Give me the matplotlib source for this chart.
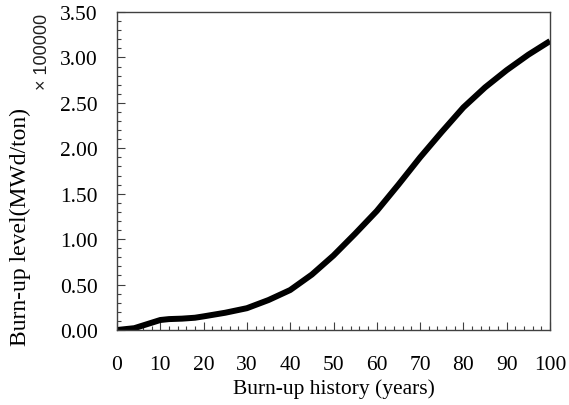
import matplotlib
matplotlib.use("Agg")
import matplotlib.pyplot as plt
from matplotlib.ticker import MultipleLocator, FormatStrFormatter

years = [0, 2, 4, 6, 8, 10, 12, 15, 18, 20, 25, 30, 35, 40, 45, 50, 55, 60,
         65, 70, 75, 80, 85, 90, 95, 100]
burnup = [0.00, 0.01, 0.02, 0.05, 0.08, 0.11, 0.12, 0.125, 0.135, 0.15, 0.19,
          0.24, 0.33, 0.44, 0.61, 0.82, 1.06, 1.31, 1.60, 1.90, 2.18, 2.45,
          2.67, 2.86, 3.03, 3.18]

x_label = "Burn-up history (years)"
y_label = "Burn-up level(MWd/ton)"
scale_text = "\u00d7 100000"

plt.rcParams['font.family'] = ['Liberation Serif', 'DejaVu Serif']

fig = plt.figure(figsize=(5.69, 4.06), dpi=100)
ax = fig.add_axes([117/569, 1 - 331/406, 433/569, 318/406])

ax.plot(years, burnup, color='black', linewidth=4.3, solid_capstyle='butt',
        solid_joinstyle='round')

ax.set_xlim(0, 100)
ax.set_ylim(0, 3.5)
ax.xaxis.set_major_locator(MultipleLocator(10))
ax.xaxis.set_minor_locator(MultipleLocator(2))
ax.yaxis.set_major_locator(MultipleLocator(0.5))
ax.yaxis.set_minor_locator(MultipleLocator(0.1))
ax.yaxis.set_major_formatter(FormatStrFormatter('%.2f'))

spine_color = '#404040'
for s in ax.spines.values():
    s.set_color(spine_color)
    s.set_linewidth(1.0)

ax.tick_params(axis='both', which='major', direction='in', length=5.5, width=0.8,
               color=spine_color, labelsize=15.5)
ax.tick_params(axis='both', which='minor', direction='in', length=3, width=0.8,
               color=spine_color)
ax.tick_params(axis='x', which='major', pad=18)
ax.tick_params(axis='y', which='major', pad=14)
ax.tick_params(top=False, right=False, which='both')

ax.set_xlabel(x_label, fontsize=15.5, labelpad=3)
ax.set_ylabel(y_label, fontsize=17, rotation=90, ha='center', va='center')
ax.yaxis.set_label_coords(-0.224, 0.327)

ax.text(-0.172, 0.879, scale_text, transform=ax.transAxes, rotation=90,
        ha='center', va='center', fontsize=13, family=['Liberation Sans', 'DejaVu Sans'],
        color='#202020')

fig.savefig('out.png', dpi=100, facecolor='white')
